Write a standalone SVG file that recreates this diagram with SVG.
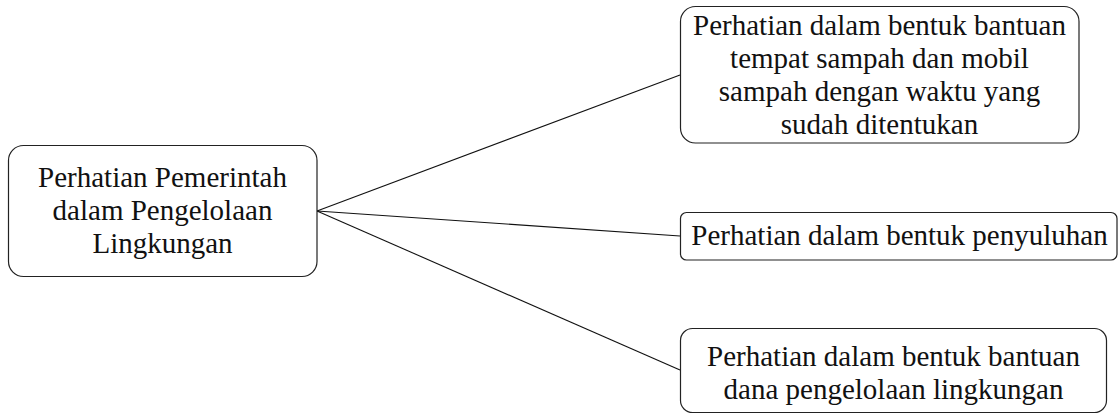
<svg xmlns="http://www.w3.org/2000/svg" width="1118" height="414" viewBox="0 0 1118 414">
<style>
.box{fill:#fff;stroke:#222;stroke-width:1.2}
.t{font-family:'Liberation Serif','Times New Roman','DejaVu Serif',serif;font-size:29px;fill:#111;text-anchor:middle}
.c{stroke:#111;stroke-width:1.1;fill:none}
</style>
<rect width="1118" height="414" fill="#fff"/>
<g id="connectors">
<line class="c" x1="317" y1="211" x2="680" y2="75"/>
<line class="c" x1="317" y1="211" x2="680" y2="236"/>
<line class="c" x1="317" y1="211" x2="680" y2="370"/>
</g>
<g id="root" font-family="Liberation Serif, serif">
<rect class="box" x="8.5" y="145.5" width="308.5" height="131" rx="15"/>
<text class="t" x="162.5" y="187">Perhatian Pemerintah</text>
<text class="t" x="162.5" y="220">dalam Pengelolaan</text>
<text class="t" x="162.5" y="253">Lingkungan</text>
</g>
<g id="n1">
<rect class="box" x="680.5" y="6.5" width="398.5" height="136.5" rx="15"/>
<text class="t" x="879.5" y="35">Perhatian dalam bentuk bantuan</text>
<text class="t" x="879.5" y="68">tempat sampah dan mobil</text>
<text class="t" x="879.5" y="101">sampah dengan waktu yang</text>
<text class="t" x="879.5" y="134">sudah ditentukan</text>
</g>
<g id="n2">
<rect class="box" x="680.5" y="212.5" width="436.5" height="47.5" rx="6"/>
<text class="t" x="899.5" y="245">Perhatian dalam bentuk penyuluhan</text>
</g>
<g id="n3">
<rect class="box" x="680.5" y="328.5" width="426" height="84" rx="12"/>
<text class="t" x="893.5" y="366">Perhatian dalam bentuk bantuan</text>
<text class="t" x="893.5" y="399">dana pengelolaan lingkungan</text>
</g>
</svg>
